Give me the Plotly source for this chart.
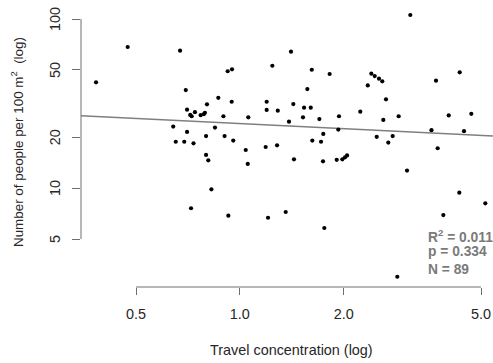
import math
import plotly.graph_objects as go

# Data
travel_concentration = [
    0.383, 0.473, 0.671, 0.697, 0.866, 0.803, 0.703, 0.741, 0.718, 0.725,
    0.770, 0.787, 0.641, 0.703, 0.798, 0.847, 1.407, 1.242, 0.922, 0.949,
    1.616, 1.821, 1.569, 0.947, 1.196, 1.196, 1.288, 1.429, 1.535, 1.605,
    0.896, 1.058, 1.524, 1.700, 1.938, 1.388, 0.903, 1.745, 1.929, 0.957,
    1.622, 3.119, 2.405, 2.460, 2.531, 2.587, 2.348, 3.703, 4.338, 2.652,
    2.234, 2.605, 2.886, 4.031, 4.687, 3.593, 4.464, 2.493, 2.773, 0.652,
    0.690, 0.734, 0.798, 0.810, 0.827, 0.722, 1.040, 1.188, 1.282, 1.719,
    1.054, 1.435, 1.742, 1.909, 1.982, 2.018, 2.045, 0.926, 1.207, 1.358,
    1.757, 2.693, 3.744, 3.052, 4.326, 5.146, 3.889, 2.860, 0.792,
]
people_per_100m2 = [
    42.2, 68.3, 65.0, 38.0, 34.2, 31.3, 29.1, 28.1, 27.1, 26.6,
    27.0, 27.4, 23.1, 21.5, 20.3, 22.8, 64.1, 52.9, 49.1, 50.4,
    50.1, 47.3, 38.5, 32.4, 32.4, 29.0, 28.7, 31.4, 29.9, 29.9,
    26.6, 26.2, 26.2, 25.6, 26.6, 24.7, 20.3, 20.9, 22.2, 19.1,
    19.1, 105.6, 47.5, 46.0, 44.4, 42.8, 40.5, 43.2, 48.4, 33.5,
    28.3, 25.3, 26.6, 26.9, 27.5, 22.0, 21.7, 20.1, 20.3, 18.8,
    18.8, 18.4, 15.7, 14.6, 9.84, 7.60, 16.8, 17.5, 17.9, 18.8,
    13.9, 14.8, 14.4, 14.7, 14.8, 15.2, 15.6, 6.87, 6.68, 7.22,
    5.81, 18.6, 17.2, 12.7, 9.39, 8.13, 6.93, 2.99, 27.9,
]

# Fitted line (log10 y = a + b * log10 x), as drawn in the reference
fit_intercept_log = 1.3817
fit_slope = -0.1003

x_ticks = [0.5, 1.0, 2.0, 5.0]
x_tick_labels = ["0.5", "1.0", "2.0", "5.0"]
y_ticks = [5, 10, 20, 50, 100]
y_tick_labels = ["5", "10", "20", "50", "100"]

stats_text = ["R<sup>2</sup> = 0.011", "p = 0.334", "N = 89"]

# Layout
W, H = 493, 363
ML, MR, MT, MB = 81, 0, 5, 76
x_range_log = [-0.46045, 0.73375]
y_range_log = [0.41514, 2.08279]

FONT = "Liberation Sans, Arial, Helvetica, sans-serif"
AXIS_COL = "#6e6e6e"
TEXT_COL = "#262626"
STAT_COL = "#7a7a7a"

fig = go.Figure()

x_line = [10 ** x_range_log[0], 10 ** x_range_log[1]]
y_line = [10 ** (fit_intercept_log + fit_slope * math.log10(v)) for v in x_line]
fig.add_trace(go.Scatter(x=x_line, y=y_line, mode="lines",
                         line=dict(color="#7f7f7f", width=1.5),
                         hoverinfo="skip", showlegend=False))

fig.add_trace(go.Scatter(x=travel_concentration, y=people_per_100m2, mode="markers",
                         marker=dict(color="black", size=4.2, line=dict(width=0)),
                         showlegend=False))

fig.update_layout(
    width=W, height=H,
    margin=dict(l=ML, r=MR, t=MT, b=MB, pad=0),
    paper_bgcolor="white", plot_bgcolor="white",
    font=dict(family=FONT, size=14.4, color=TEXT_COL),
    xaxis=dict(type="log", range=x_range_log, showgrid=False, zeroline=False,
               showline=False, tickmode="array", tickvals=x_ticks,
               ticktext=x_tick_labels, ticks="outside", ticklen=7,
               tickcolor=AXIS_COL, tickwidth=1, ticklabelstandoff=7,
               tickfont=dict(size=14.4, color=TEXT_COL)),
    yaxis=dict(type="log", range=y_range_log, showgrid=False, zeroline=False,
               showline=False, tickmode="array", tickvals=y_ticks,
               ticks="outside", ticklen=8, showticklabels=False,
               tickcolor=AXIS_COL, tickwidth=1),
)

# Detached axis lines spanning the tick range (R style)
fig.add_shape(type="line", xref="x", yref="paper",
              x0=x_ticks[0], x1=x_ticks[-1], y0=0, y1=0,
              line=dict(color=AXIS_COL, width=1))
fig.add_shape(type="line", xref="paper", yref="y",
              x0=0, x1=0, y0=y_ticks[0], y1=y_ticks[-1],
              line=dict(color=AXIS_COL, width=1))

# Y tick labels (rotated, R style), positioned on the y axis scale
for val, lab in zip(y_ticks, y_tick_labels):
    fig.add_annotation(text=lab, xref="paper", yref="y", x=0, y=math.log10(val),
                       xshift=-26, xanchor="center", yanchor="middle",
                       textangle=-90, showarrow=False,
                       font=dict(size=14.4, color=TEXT_COL))

# Axis titles
fig.add_annotation(text="Travel concentration (log)", xref="paper", yref="paper",
                   x=(291 - ML) / (W - ML - MR), y=0, yshift=-63,
                   xanchor="center", yanchor="middle", showarrow=False,
                   font=dict(size=14.4, color=TEXT_COL))
fig.add_annotation(text="Number of people per 100 m<sup>2</sup>  (log)",
                   xref="paper", yref="paper",
                   x=0, xshift=-64, y=(H - MB - 142) / (H - MT - MB),
                   xanchor="center", yanchor="middle", textangle=-90,
                   showarrow=False, font=dict(size=13.4, color=TEXT_COL))

# Statistics text
stat_y_px = [236, 251, 269]
for txt, ypx in zip(stats_text, stat_y_px):
    fig.add_annotation(text="<b>" + txt + "</b>", xref="paper", yref="paper",
                       x=(426 - ML) / (W - ML - MR),
                       y=(H - MB - ypx) / (H - MT - MB),
                       xanchor="left", yanchor="middle", showarrow=False,
                       font=dict(size=13.8, color=STAT_COL))

fig.write_html("out.html")
